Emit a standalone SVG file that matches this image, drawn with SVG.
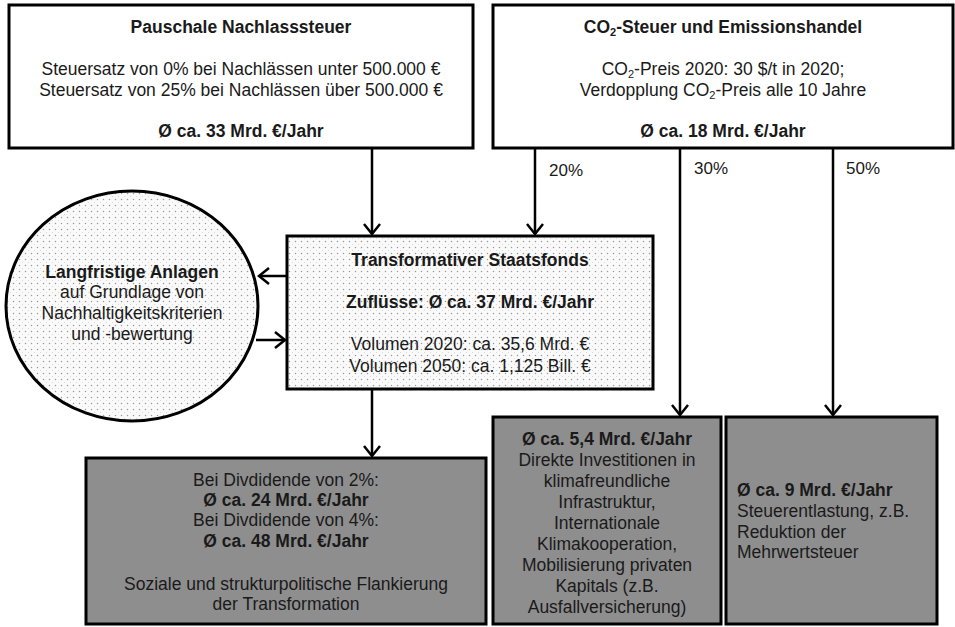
<svg xmlns="http://www.w3.org/2000/svg" width="955" height="627" viewBox="0 0 955 627">
<style>
text{font-family:"Liberation Sans",Arial,sans-serif;fill:#1a1a1a;font-size:17.5px}
.c{text-anchor:middle}
.b{font-weight:bold}
.box{stroke:#000;stroke-width:3;fill:#fff}
.dot{stroke:#000;stroke-width:3;fill:url(#dots)}
.gray{stroke:#000;stroke-width:3;fill:#8e8e8e}
.conn line{stroke:#000;stroke-width:2.5}
.conn path{stroke:#000;stroke-width:2.5;fill:none}
.sub{font-size:11px}
.pct{font-size:17px}
</style>
<defs>
<pattern id="dots" width="6" height="6" patternUnits="userSpaceOnUse">
<rect width="6" height="6" fill="#fafafa"/>
<circle cx="1.5" cy="1.5" r="0.75" fill="#9a9a9a"/>
<circle cx="4.5" cy="4.5" r="0.5" fill="#cfcfcf"/>
</pattern>
</defs>

<g id="pauschale">
<rect class="box" x="9" y="5" width="464" height="143"/>
<text class="c b" x="241" y="33">Pauschale Nachlasssteuer</text>
<text class="c" x="241" y="75">Steuersatz von 0% bei Nachlässen unter 500.000 €</text>
<text class="c" x="241" y="96">Steuersatz von 25% bei Nachlässen über 500.000 €</text>
<text class="c b" x="241" y="137">Ø ca. 33 Mrd. €/Jahr</text>
</g>

<g id="co2">
<rect class="box" x="493" y="5" width="460" height="143"/>
<text class="c b" x="723" y="33">CO<tspan class="sub" dy="3">2</tspan><tspan dy="-3">-Steuer und Emissionshandel</tspan></text>
<text class="c" x="723" y="75">CO<tspan class="sub" dy="3">2</tspan><tspan dy="-3">-Preis 2020: 30 $/t in 2020;</tspan></text>
<text class="c" x="723" y="96">Verdopplung  CO<tspan class="sub" dy="3">2</tspan><tspan dy="-3">-Preis alle 10 Jahre</tspan></text>
<text class="c b" x="723" y="137">Ø ca. 18 Mrd. €/Jahr</text>
</g>

<g id="anlagen">
<ellipse class="dot" cx="132" cy="306" rx="126" ry="115"/>
<text class="c b" x="132" y="278">Langfristige Anlagen</text>
<text class="c" x="132" y="298">auf Grundlage von</text>
<text class="c" x="132" y="319">Nachhaltigkeitskriterien</text>
<text class="c" x="132" y="340">und -bewertung</text>
</g>

<g id="staatsfonds">
<rect class="dot" x="287" y="236" width="366" height="153"/>
<text class="c b" x="470" y="266">Transformativer Staatsfonds</text>
<text class="c b" x="470" y="308">Zuflüsse: Ø ca. 37 Mrd. €/Jahr</text>
<text class="c" x="470" y="350">Volumen 2020: ca. 35,6 Mrd. €</text>
<text class="c" x="470" y="372">Volumen 2050: ca. 1,125 Bill. €</text>
</g>

<g id="dividende">
<rect class="gray" x="86" y="458" width="400" height="166"/>
<text class="c" x="286" y="486">Bei Divdidende von 2%:</text>
<text class="c b" x="286" y="506">Ø ca. 24 Mrd. €/Jahr</text>
<text class="c" x="286" y="526">Bei Divdidende von 4%:</text>
<text class="c b" x="286" y="547">Ø ca. 48 Mrd. €/Jahr</text>
<text class="c" x="286" y="590">Soziale und strukturpolitische Flankierung</text>
<text class="c" x="286" y="610">der Transformation</text>
</g>

<g id="investitionen">
<rect class="gray" x="493" y="417" width="228" height="207"/>
<text class="c b" x="607" y="445">Ø ca. 5,4 Mrd. €/Jahr</text>
<text class="c" x="607" y="466">Direkte Investitionen in</text>
<text class="c" x="607" y="487">klimafreundliche</text>
<text class="c" x="607" y="508">Infrastruktur,</text>
<text class="c" x="607" y="529">Internationale</text>
<text class="c" x="607" y="550">Klimakooperation,</text>
<text class="c" x="607" y="571">Mobilisierung privaten</text>
<text class="c" x="607" y="592">Kapitals (z.B.</text>
<text class="c" x="607" y="613">Ausfallversicherung)</text>
</g>

<g id="steuerentlastung">
<rect class="gray" x="726" y="417" width="211" height="207"/>
<text class="b" x="737" y="496">Ø ca. 9 Mrd. €/Jahr</text>
<text x="737" y="517">Steuerentlastung, z.B.</text>
<text x="737" y="538">Reduktion der</text>
<text x="737" y="558">Mehrwertsteuer</text>
</g>

<g id="connectors" class="conn">
<line x1="372" y1="148" x2="372" y2="234"/>
<path d="M364 224 L372 234 L380 224"/>
<line x1="535" y1="148" x2="535" y2="234"/>
<path d="M527 224 L535 234 L543 224"/>
<line x1="680" y1="148" x2="680" y2="415"/>
<path d="M672 405 L680 415 L688 405"/>
<line x1="833" y1="148" x2="833" y2="415"/>
<path d="M825 405 L833 415 L841 405"/>
<line x1="372" y1="389" x2="372" y2="456"/>
<path d="M364 446 L372 456 L380 446"/>
<line x1="287" y1="276" x2="259" y2="276"/>
<path d="M269 268 L259 276 L269 284"/>
<line x1="256" y1="340" x2="285" y2="340"/>
<path d="M275 332 L285 340 L275 348"/>
<text class="pct" x="549" y="176">20%</text>
<text class="pct" x="694" y="174">30%</text>
<text class="pct" x="846" y="174">50%</text>
</g>
</svg>
